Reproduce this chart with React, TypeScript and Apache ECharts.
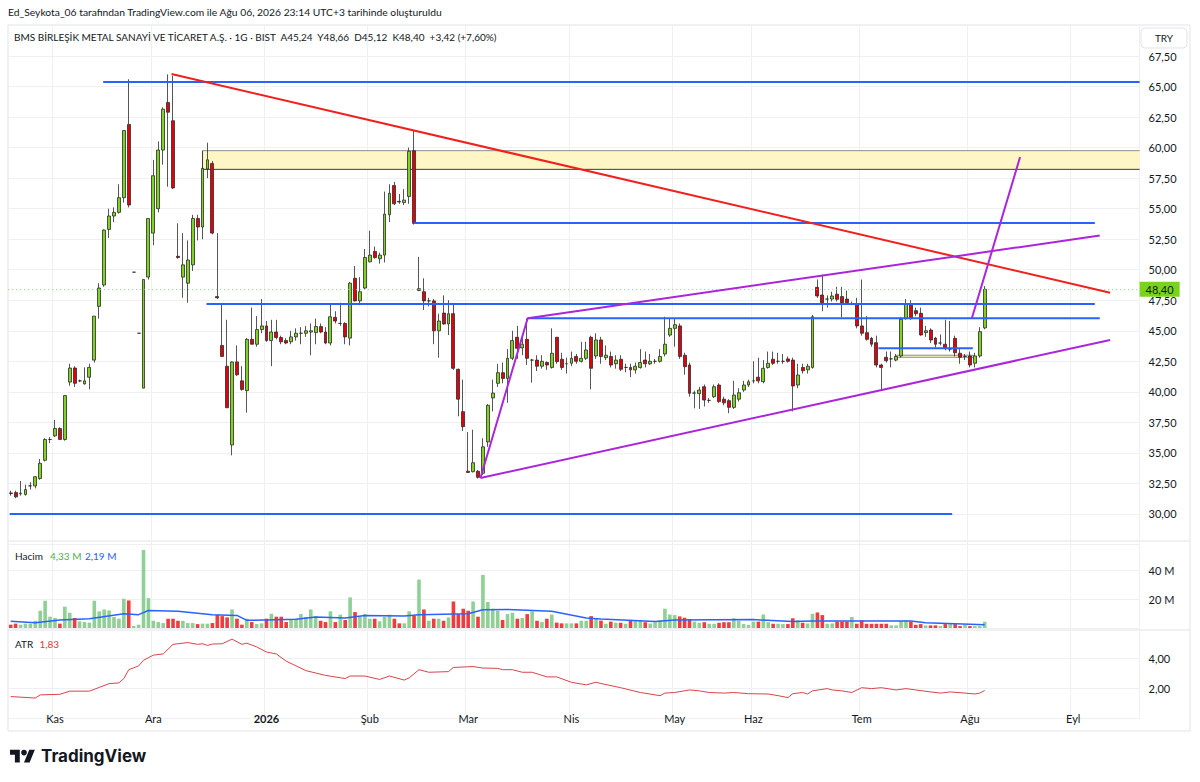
import React, { useEffect, useRef } from 'react';
import * as echarts from 'echarts';

// ---------- data ----------
const BAR_COUNT = 230; // 199 traded days + empty space to the right

const monthTicks: [number, string][] = [
  [9, 'Kas'], [29, 'Ara'], [52, '2026'], [73, 'Şub'], [93, 'Mar'], [114, 'Nis'],
  [135, 'May'], [151, 'Haz'], [173, 'Tem'], [195, 'Ağu'], [216, 'Eyl'],
];

// [open, high, low, close]
const ohlc: number[][] = [
  [31.72, 31.9, 31.5, 31.68], [31.75, 31.9, 31.3, 31.4], [31.65, 32.7, 31.5, 31.7], [31.6, 32.4, 31.5, 32.0], [32.3, 32.6, 32.0, 32.3],
  [32.3, 33.1, 32.1, 33.05], [32.9, 34.5, 32.8, 34.15], [34.4, 36.2, 34.3, 36.1], [36.1, 36.3, 35.8, 36.1], [36.4, 37.7, 36.3, 37.0],
  [37.0, 37.1, 36.1, 36.1], [36.1, 39.7, 36.0, 39.7], [40.8, 42.3, 40.5, 41.95], [41.95, 42.1, 40.4, 40.7], [40.9, 41.0, 40.8, 40.9],
  [40.65, 42.0, 40.6, 40.9], [41.2, 42.3, 40.2, 42.0], [42.6, 46.2, 42.4, 46.2], [47.0, 48.9, 46.0, 48.5], [48.75, 53.3, 48.6, 53.25],
  [53.3, 55.0, 52.6, 54.4], [54.4, 55.1, 53.9, 54.7], [54.7, 57.0, 54.6, 55.9], [55.9, 61.4, 55.5, 61.4], [61.9, 65.6, 55.1, 55.3],
  [49.8, 49.8, 49.8, 49.8], [44.8, 44.8, 44.8, 44.8], [40.3, 49.2, 40.3, 49.2], [49.4, 54.2, 49.2, 54.2], [53.0, 59.0, 52.0, 57.7],
  [55.0, 60.5, 54.7, 59.8], [59.8, 63.3, 58.6, 63.15], [63.7, 66.0, 56.8, 62.9], [62.2, 65.9, 56.6, 56.7], [51.1, 53.8, 50.9, 51.0],
  [49.4, 53.0, 47.7, 50.4], [48.9, 52.4, 47.3, 50.8], [50.4, 54.5, 49.9, 54.2], [54.2, 54.5, 52.4, 53.5], [53.5, 58.5, 52.5, 58.3],
  [58.25, 60.4, 57.5, 59.0], [58.7, 58.9, 52.9, 53.0], [47.8, 53.0, 47.6, 47.7], [43.8, 47.2, 42.9, 42.9], [42.1, 45.9, 38.7, 38.7],
  [35.65, 42.5, 34.8, 42.45], [42.45, 43.8, 41.3, 41.4], [40.9, 42.1, 40.1, 40.2], [40.1, 44.4, 38.3, 44.3], [44.3, 46.9, 43.9, 43.9],
  [43.9, 46.2, 43.7, 45.1], [45.1, 47.6, 44.8, 45.4], [45.4, 45.8, 44.1, 44.2], [44.2, 45.9, 42.1, 44.9], [44.9, 45.9, 44.3, 44.45],
  [44.45, 44.6, 43.9, 44.1], [44.2, 44.4, 43.9, 44.0], [44.1, 45.0, 43.9, 44.5], [44.5, 45.2, 44.2, 44.8], [44.8, 45.3, 43.9, 44.8],
  [44.8, 45.4, 44.5, 45.0], [44.9, 45.6, 43.0, 45.0], [44.85, 46.0, 43.9, 45.35], [45.35, 45.6, 44.8, 44.9], [44.9, 45.3, 43.9, 44.0],
  [44.0, 47.2, 43.8, 46.15], [46.1, 46.6, 45.6, 45.8], [45.6, 47.3, 45.4, 45.6], [45.6, 45.7, 43.9, 44.5], [44.4, 49.0, 43.8, 48.9],
  [49.3, 50.3, 47.4, 47.45], [47.45, 49.4, 47.1, 48.2], [48.5, 51.7, 48.4, 51.0], [50.65, 53.2, 50.6, 51.2], [51.5, 51.9, 50.9, 51.0],
  [50.9, 51.4, 50.5, 51.2], [51.2, 56.4, 50.6, 54.56], [54.5, 57.0, 53.9, 56.26], [56.9, 57.2, 55.3, 55.4], [55.6, 56.2, 55.4, 55.55],
  [55.5, 56.6, 55.3, 55.7], [56.0, 60.0, 55.4, 59.7], [59.74, 61.4, 53.7, 53.8], [48.3, 51.05, 48.25, 48.45], [48.2, 49.3, 46.7, 47.45],
  [47.45, 47.7, 47.0, 47.45], [47.45, 47.6, 43.9, 45.0], [45.0, 46.4, 42.8, 45.8], [46.45, 47.9, 45.5, 45.56], [45.56, 47.5, 44.65, 46.4],
  [46.4, 47.2, 41.8, 41.93], [41.85, 41.9, 38.0, 39.4], [38.38, 41.0, 36.8, 37.15], [33.5, 36.7, 33.35, 33.4], [33.46, 36.9, 33.4, 34.2],
  [33.5, 33.6, 32.9, 33.0], [33.33, 36.2, 33.2, 35.5], [35.9, 39.0, 35.5, 38.9], [39.5, 41.0, 38.4, 39.9], [40.7, 42.3, 40.4, 41.57],
  [41.57, 42.4, 40.7, 41.1], [41.1, 43.5, 39.1, 42.75], [42.75, 45.0, 42.6, 44.2], [44.47, 45.4, 42.7, 43.57], [43.6, 44.6, 43.0, 43.9],
  [44.3, 46.0, 42.2, 42.75], [42.6, 42.7, 40.75, 42.6], [42.6, 43.0, 41.7, 42.1], [42.1, 43.0, 41.9, 42.5], [42.4, 42.5, 41.8, 42.2],
  [42.0, 45.2, 41.9, 43.16], [44.47, 44.5, 42.3, 42.47], [42.67, 43.2, 41.8, 42.0], [42.3, 42.8, 41.5, 42.3], [42.34, 43.3, 42.1, 42.75],
  [42.9, 43.1, 42.3, 42.5], [42.5, 44.1, 42.4, 42.75], [42.75, 44.1, 42.6, 43.43], [44.47, 44.6, 40.2, 41.93], [42.94, 44.8, 42.7, 44.25],
  [44.25, 44.5, 42.3, 42.9], [42.8, 43.8, 42.6, 43.0], [42.9, 43.3, 42.0, 42.2], [42.3, 43.0, 41.9, 42.6], [42.67, 43.0, 41.7, 41.85],
  [42.0, 42.3, 41.6, 42.0], [42.0, 42.3, 41.2, 41.8], [41.8, 42.4, 41.5, 42.1], [42.0, 43.5, 41.9, 42.4], [42.6, 43.3, 42.0, 42.3],
  [42.3, 43.1, 42.2, 42.5], [42.5, 42.7, 42.3, 42.5], [42.5, 43.5, 42.4, 42.9], [43.1, 46.15, 42.9, 43.9], [44.65, 46.0, 44.5, 45.2],
  [45.2, 46.0, 43.7, 45.5], [45.4, 45.6, 42.7, 42.9], [43.0, 43.2, 41.4, 42.06], [42.2, 42.4, 39.6, 39.88], [39.9, 40.1, 38.65, 39.9],
  [39.85, 40.4, 38.6, 40.15], [40.42, 40.6, 38.8, 39.33], [39.3, 39.5, 39.1, 39.3], [39.6, 40.6, 39.5, 40.42], [40.56, 40.7, 39.1, 39.2],
  [39.4, 39.6, 38.9, 39.1], [39.28, 39.4, 38.25, 38.73], [38.73, 40.9, 38.6, 39.74], [39.4, 40.3, 39.2, 39.93], [40.15, 40.9, 40.0, 40.56],
  [40.56, 41.0, 40.4, 40.83], [40.9, 42.5, 40.7, 40.9], [41.2, 42.8, 40.7, 40.9], [40.83, 42.6, 40.7, 41.93], [42.0, 43.3, 41.9, 42.34],
  [42.67, 43.3, 42.2, 42.34], [42.5, 43.2, 42.3, 42.5], [42.5, 43.1, 42.3, 42.5], [42.7, 42.9, 42.4, 42.5], [42.6, 42.8, 38.4, 40.48],
  [40.56, 42.3, 40.3, 41.38], [42.0, 42.3, 41.5, 41.73], [41.8, 42.3, 41.5, 42.1], [42.0, 46.3, 41.9, 46.15], [48.56, 49.2, 47.7, 47.85],
  [47.93, 49.6, 46.6, 47.3], [47.6, 47.9, 46.9, 47.6], [47.6, 48.2, 47.4, 47.85], [48.0, 48.6, 47.4, 47.58], [47.8, 48.6, 46.1, 47.3],
  [47.6, 48.3, 47.2, 47.3], [47.2, 47.4, 47.1, 47.2], [47.2, 47.7, 45.2, 45.4], [45.4, 49.2, 44.6, 44.8], [44.85, 46.2, 44.2, 44.3],
  [44.38, 44.5, 43.7, 43.9], [44.03, 44.6, 42.0, 42.2], [42.2, 42.3, 40.2, 42.0], [42.83, 43.3, 42.4, 42.55], [42.7, 43.3, 42.0, 42.7],
  [42.6, 43.1, 42.5, 42.9], [42.94, 46.1, 42.8, 45.94], [46.0, 47.6, 45.9, 47.2], [47.2, 47.5, 45.9, 46.0], [46.65, 46.9, 46.2, 46.4],
  [46.43, 46.9, 44.6, 44.66], [44.85, 45.4, 44.5, 45.0], [45.06, 45.2, 44.0, 44.25], [44.4, 44.5, 43.6, 43.9], [44.0, 44.7, 43.8, 44.0],
  [43.9, 45.9, 43.4, 43.6], [43.5, 45.8, 43.3, 43.5], [44.38, 44.6, 42.9, 43.2], [43.16, 43.5, 42.3, 42.83], [42.9, 43.1, 42.6, 42.9],
  [42.94, 43.3, 42.0, 42.2], [42.34, 43.2, 42.0, 42.94], [42.94, 45.3, 42.8, 44.93], [45.24, 48.66, 45.12, 48.40],
];

// volume in millions
const volumeM: number[] = [
  2.3, 3.0, 2.3, 3.0, 3.0, 5.0, 11.9, 18.8, 7.8, 6.9,
  3.0, 14.7, 10.5, 6.9, 4.6, 4.1, 3.7, 18.8, 11.5, 12.8,
  12.1, 7.6, 6.4, 20.2, 19.0, 1.4, 2.3, 53.8, 20.6, 5.0,
  4.1, 3.4, 6.4, 6.4, 5.0, 5.0, 3.4, 3.4, 2.7, 3.0,
  3.0, 3.4, 9.2, 8.2, 7.3, 12.8, 6.4, 2.3, 6.4, 4.1,
  2.7, 3.2, 6.4, 9.8, 7.8, 7.8, 4.1, 5.5, 6.4, 9.6,
  7.6, 12.8, 8.2, 5.0, 4.1, 11.5, 4.1, 9.2, 5.5, 21.1,
  11.0, 7.8, 9.6, 6.4, 6.4, 4.6, 7.8, 9.2, 6.4, 3.2,
  3.2, 11.5, 8.7, 33.4, 12.8, 5.0, 6.4, 6.4, 5.0, 7.3,
  18.3, 9.6, 13.3, 11.9, 18.3, 7.8, 36.6, 17.9, 13.3, 11.9,
  5.5, 9.6, 10.5, 6.4, 6.9, 9.6, 11.5, 5.0, 4.1, 6.4,
  9.2, 3.7, 3.2, 3.2, 3.2, 3.2, 5.0, 5.0, 8.2, 6.4,
  5.1, 2.9, 4.4, 3.6, 3.6, 2.9, 4.9, 4.9, 5.3, 4.0,
  3.1, 4.0, 5.3, 13.3, 9.3, 8.9, 8.0, 7.1, 6.2, 4.4,
  3.6, 4.0, 2.9, 2.9, 3.6, 4.0, 4.0, 6.7, 4.9, 2.7,
  2.2, 4.4, 4.4, 9.3, 4.0, 2.9, 2.9, 2.7, 2.7, 6.7,
  5.3, 3.6, 3.1, 9.8, 10.7, 8.9, 2.9, 3.1, 4.4, 4.4,
  4.4, 7.6, 2.9, 5.3, 2.9, 2.9, 2.9, 2.9, 2.9, 1.8,
  1.8, 4.9, 5.3, 4.4, 2.2, 2.7, 1.8, 1.8, 1.8, 1.3,
  2.7, 2.7, 2.7, 1.3, 2.2, 1.3, 1.3, 1.3, 4.33,
];

// volume moving average [bar, millions]
const volumeMA: number[][] = [
  [0, 4.6], [5, 3.7], [10, 5.5], [16, 6.4], [23, 9.8], [26, 9.2], [28, 12.1], [34, 11.5], [41, 9.2], [46, 8.7],
  [48, 5.3], [58, 6.0], [62, 7.6], [68, 6.9], [72, 8.7], [80, 8.2], [83, 9.2], [93, 9.8], [96, 12.6], [101, 12.8],
  [110, 11.5], [117, 6.9], [120, 6.2], [131, 4.4], [135, 5.6], [151, 5.8], [159, 4.4], [163, 4.9], [174, 4.9],
  [183, 4.9], [186, 3.6], [198, 2.19],
];

// ATR [bar, value]
const atr: number[][] = [
  [0, 1.43], [5, 1.33], [6, 1.54], [10, 1.58], [12, 1.79], [16, 1.79], [18, 2.04], [20, 2.29], [22, 2.34], [23, 2.63],
  [24, 3.22], [26, 3.47], [27, 3.85], [29, 4.19], [31, 4.27], [33, 4.91], [36, 5.03], [38, 4.91], [39, 4.95], [40, 4.84],
  [41, 4.93], [43, 4.95], [45, 5.26], [47, 4.91], [48, 4.99], [50, 4.74], [52, 4.4], [54, 4.27], [56, 3.79], [60, 3.16],
  [64, 2.84], [68, 2.63], [69, 2.8], [72, 2.8], [75, 2.57], [77, 2.8], [80, 2.53], [81, 2.67], [83, 3.22], [85, 3.05],
  [89, 3.09], [90, 3.37], [94, 3.43], [96, 3.33], [99, 3.31], [100, 3.22], [102, 3.22], [104, 3.05], [106, 3.05], [109, 2.74],
  [111, 2.74], [114, 2.38], [117, 2.21], [119, 2.38], [120, 2.3], [124, 2.02], [128, 1.7], [132, 1.49], [133, 1.66], [135, 1.7],
  [138, 1.87], [140, 1.81], [142, 1.7], [145, 1.66], [147, 1.7], [150, 1.62], [154, 1.6], [156, 1.49], [158, 1.36], [159, 1.62],
  [161, 1.7], [162, 1.6], [163, 1.81], [166, 1.96], [167, 1.87], [169, 1.81], [171, 1.7], [173, 2.02], [175, 1.96], [177, 2.02],
  [180, 1.87], [182, 1.96], [184, 1.87], [187, 1.74], [189, 1.66], [191, 1.74], [194, 1.66], [196, 1.6], [197, 1.66], [198, 1.83],
];

// drawings, in [bar index, price]
const blueLines: number[][][] = [
  [[18.8, 65.37], [229.5, 65.37]],
  [[82, 53.83], [220.4, 53.83]],
  [[39.8, 47.2], [220.4, 47.2]],
  [[105.1, 46.03], [221.4, 46.03]],
  [[-0.2, 30.0], [191.4, 30.0]],
  [[176.4, 43.57], [195.6, 43.57]],
];
const redLines: number[][][] = [
  [[32.7, 66.03], [223.5, 48.12]],
];
const purpleLines: number[][][] = [
  [[95.5, 32.95], [105.1, 46.03], [221.4, 52.8]],
  [[95.5, 32.95], [223.5, 44.25]],
  [[195.4, 46.03], [205.2, 59.23]],
];
// supply zone (open to the right) and a small box
const zoneBar: number[] = [39.0, 229.5];
const zonePrice: number[] = [58.22, 59.75];
const boxBar: number[] = [180.1, 195.7];
const boxPrice: number[] = [42.83, 43.0];

const titleText = 'Ed_Seykota_06 tarafından TradingView.com ile Ağu 06, 2026 23:14 UTC+3 tarihinde oluşturuldu';
const headerText = 'BMS BİRLEŞİK METAL SANAYİ VE TİCARET A.Ş. · 1G · BIST  A45,24  Y48,66  D45,12  K48,40  +3,42 (+7,60%)';

// ---------- helpers ----------
const LOGO_D = 'M14 22H7V11H0V4h14v18zM28 22h-8l7.5-18h8L28 22zM24 8a4 4 0 1 1-8 0a4 4 0 1 1 8 0z';
try {
  echarts.graphic.registerShape('tvlogo', echarts.graphic.extendPath(LOGO_D, {}) as any);
} catch (e) { /* already registered */ }

const fmt = (v: number) => v.toFixed(2).replace('.', ',');

const FONT = 'Lato, "Open Sans", sans-serif';
const GREEN = '#7ed321';
const RED = '#e2000b';
const BORDER = '#2b2b2b';
const GRID_LINE = '#eef0f4';

const GRID_LEFT = 8.24;
const GRID_W = 4.919 * BAR_COUNT;

function buildOption(): any {
  const cats = Array.from({ length: BAR_COUNT }, (_, i) => String(i));
  const tickSet = new Set(monthTicks.map((t) => t[0]));
  const labelMap: Record<number, string> = {};
  monthTicks.forEach(([i, l]) => { labelMap[i] = l; });

  const catAxis = (gridIndex: number, showSplit: boolean, showLabel: boolean) => ({
    type: 'category', gridIndex, data: cats, boundaryGap: true,
    axisLine: { show: false }, axisTick: { show: false },
    axisLabel: {
      show: showLabel,
      interval: (i: number) => tickSet.has(i),
      formatter: (_v: string, i: number) => (labelMap[i] === '2026' ? '{b|2026}' : labelMap[i] || ''),
      color: '#131722', fontSize: 11, fontFamily: FONT, margin: 4,
      rich: { b: { fontWeight: 'bold', fontSize: 11, color: '#131722', fontFamily: FONT } },
    },
    splitLine: { show: showSplit, interval: (i: number) => tickSet.has(i), lineStyle: { color: GRID_LINE, width: 1 } },
  });

  const yLabel = { color: '#131722', fontSize: 11, fontFamily: FONT, margin: 9 };

  const lineSeries = (pts: number[][], color: string, width = 2, z = 10) => ({
    type: 'line', xAxisIndex: 4, yAxisIndex: 0, data: pts, symbol: 'none', silent: true,
    lineStyle: { color, width }, z, animation: false,
  });

  const last = ohlc[ohlc.length - 1];

  return {
    animation: false,
    backgroundColor: '#ffffff',
    textStyle: { fontFamily: FONT },
    grid: [
      { left: GRID_LEFT, width: GRID_W, top: 25.5, height: 519 },
      { left: GRID_LEFT, width: GRID_W, top: 541, height: 87 },
      { left: GRID_LEFT, width: GRID_W, top: 628, height: 90 },
      { left: GRID_LEFT, width: GRID_W, top: 708, height: 1 },
    ],
    xAxis: [
      catAxis(0, true, false),
      catAxis(1, true, false),
      catAxis(2, true, false),
      catAxis(3, false, true),
      { type: 'value', gridIndex: 0, min: -0.5, max: BAR_COUNT - 0.5, show: false, splitLine: { show: false } },
    ],
    yAxis: [
      {
        type: 'value', gridIndex: 0, position: 'right', min: 27.5, max: 70, interval: 2.5,
        axisLine: { show: false }, axisTick: { show: false },
        axisLabel: { ...yLabel, formatter: (v: number) => (v <= 27.5 || v >= 70 ? '' : fmt(v)) },
        splitLine: { lineStyle: { color: GRID_LINE } },
      },
      {
        type: 'value', gridIndex: 1, position: 'right', min: 0, max: 60, interval: 20,
        axisLine: { show: false }, axisTick: { show: false },
        axisLabel: { ...yLabel, formatter: (v: number) => (v === 20 || v === 40 ? `${v} M` : '') },
        splitLine: { lineStyle: { color: GRID_LINE } },
      },
      {
        type: 'value', gridIndex: 2, position: 'right', min: 0, max: 6, interval: 2,
        axisLine: { show: false }, axisTick: { show: false },
        axisLabel: { ...yLabel, formatter: (v: number) => (v === 2 || v === 4 ? fmt(v) : '') },
        splitLine: { lineStyle: { color: GRID_LINE } },
      },
      { type: 'value', gridIndex: 3, show: false },
    ],
    series: [
      {
        type: 'candlestick', xAxisIndex: 0, yAxisIndex: 0, barWidth: 3.4,
        data: ohlc.map(([o, h, l, c]) => [o, c, l, h]),
        itemStyle: {
          color: GREEN, color0: RED, borderColor: BORDER, borderColor0: BORDER, borderColorDoji: BORDER, borderWidth: 0.8,
        },
        markLine: {
          silent: true, symbol: ['none', 'none'], animation: false,
          data: [{ yAxis: last[3] }],
          lineStyle: { type: [1, 3], color: '#8fd94e', width: 1 },
          label: {
            show: true, position: 'end', distance: 0, formatter: fmt(last[3]),
            backgroundColor: '#77d31c', color: '#131722', fontSize: 11, fontFamily: FONT,
            padding: [2, 6, 2, 6],
          },
        },
        z: 3,
      },
      {
        type: 'line', xAxisIndex: 4, yAxisIndex: 0,
        data: [[zoneBar[0], zonePrice[0]], [zoneBar[1], zonePrice[0]]],
        symbol: 'none', silent: true, lineStyle: { color: '#3a3a3a', width: 1 }, z: 2,
        markArea: {
          silent: true,
          data: [
            [
              { coord: [zoneBar[0], zonePrice[1]], itemStyle: { color: '#fff6c6', borderWidth: 0 } },
              { coord: [zoneBar[1], zonePrice[0]] },
            ],
            [
              { coord: [boxBar[0], boxPrice[1]], itemStyle: { color: '#fff6c6', borderColor: '#8c8c8c', borderWidth: 1 } },
              { coord: [boxBar[1], boxPrice[0]] },
            ],
          ],
        },
      },
      lineSeries([[zoneBar[0], zonePrice[1]], [zoneBar[1], zonePrice[1]]], '#8f8f8f', 1, 2),
      lineSeries([[zoneBar[0], zonePrice[0]], [zoneBar[0], zonePrice[1]]], '#3a3a3a', 1, 2),
      ...blueLines.map((p) => lineSeries(p, '#2962ff')),
      ...redLines.map((p) => lineSeries(p, '#f2201d')),
      ...purpleLines.map((p) => lineSeries(p, '#ac25d9')),
      {
        type: 'bar', xAxisIndex: 1, yAxisIndex: 1, barWidth: 3.6,
        data: volumeM.map((v, i) => ({
          value: v,
          itemStyle: { color: ohlc[i][3] >= ohlc[i][0] ? '#8fd095' : '#f03c3c' },
        })),
      },
      {
        type: 'line', xAxisIndex: 1, yAxisIndex: 1, data: volumeMA, symbol: 'none', silent: true,
        lineStyle: { color: '#2962ff', width: 1.5 }, z: 4,
      },
      {
        type: 'line', xAxisIndex: 2, yAxisIndex: 2, data: atr, symbol: 'none', silent: true,
        lineStyle: { color: '#d9434a', width: 1 },
      },
    ],
    graphic: [
      { type: 'rect', shape: { x: 8, y: 25, width: 1182, height: 706 }, style: { fill: 'none', stroke: '#e0e3eb', lineWidth: 1 }, silent: true, z: -1 },
      { type: 'line', shape: { x1: 8, y1: 541, x2: 1190, y2: 541 }, style: { stroke: '#e0e3eb', lineWidth: 1 }, silent: true },
      { type: 'line', shape: { x1: 8, y1: 630, x2: 1190, y2: 630 }, style: { stroke: '#e0e3eb', lineWidth: 1 }, silent: true },
      { type: 'text', x: 8, y: 12, style: { text: titleText, font: `10.3px ${FONT}`, fill: '#131722', verticalAlign: 'middle' }, silent: true },
      { type: 'text', x: 14, y: 37, style: { text: headerText, font: `10px ${FONT}`, fill: '#131722', verticalAlign: 'middle' }, silent: true, z: 20 },
      { type: 'rect', shape: { x: 1141, y: 28, width: 46, height: 20, r: 4 }, style: { fill: '#fff', stroke: '#e0e3eb', lineWidth: 1 }, silent: true, z: 20 },
      { type: 'text', x: 1164, y: 38, style: { text: 'TRY', font: `10px ${FONT}`, fill: '#131722', align: 'center', verticalAlign: 'middle' }, silent: true, z: 21 },
      { type: 'text', x: 15, y: 556, style: { text: 'Hacim', font: `10px ${FONT}`, fill: '#131722', verticalAlign: 'middle' }, silent: true, z: 20 },
      { type: 'text', x: 50, y: 556, style: { text: '4,33 M', font: `10px ${FONT}`, fill: '#4caf50', verticalAlign: 'middle' }, silent: true, z: 20 },
      { type: 'text', x: 85, y: 556, style: { text: '2,19 M', font: `10px ${FONT}`, fill: '#2962ff', verticalAlign: 'middle' }, silent: true, z: 20 },
      { type: 'text', x: 15, y: 644, style: { text: 'ATR', font: `10px ${FONT}`, fill: '#131722', verticalAlign: 'middle' }, silent: true, z: 20 },
      { type: 'text', x: 39.5, y: 644, style: { text: '1,83', font: `10px ${FONT}`, fill: '#e53935', verticalAlign: 'middle' }, silent: true, z: 20 },
      { type: 'tvlogo', x: 10, y: 747, scaleX: 0.7, scaleY: 0.7, style: { fill: '#131722' }, silent: true },
      { type: 'text', x: 41, y: 756, style: { text: 'TradingView', font: `bold 17px Inter, ${FONT}`, fill: '#131722', verticalAlign: 'middle' }, silent: true },
    ],
  };
}

export default function App() {
  const ref = useRef<HTMLDivElement>(null);
  useEffect(() => {
    if (!ref.current) return;
    const chart = echarts.init(ref.current, null, { renderer: 'svg' });
    chart.setOption(buildOption());
    return () => chart.dispose();
  }, []);
  return (
    <div
      ref={ref}
      style={{ position: 'absolute', left: 0, top: 0, width: 1200, height: 782, background: '#fff' }}
    />
  );
}
